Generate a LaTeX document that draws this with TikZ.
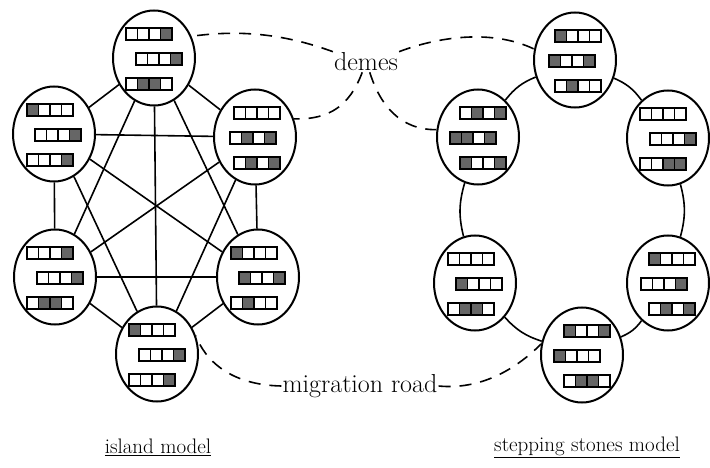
\documentclass[tikz,border=0pt]{standalone}
\usetikzlibrary{shapes.geometric,calc}
\tikzset{
  deme/.style={draw, ellipse, line width=2pt, minimum width=82pt, minimum height=95pt, inner sep=0pt},
  road/.style={line width=1.6pt},
  mig/.style={line width=1.6pt, dash pattern=on 12pt off 9pt},
  cell/.style={draw, line width=1.5pt},
  g0/.style={fill=white},
  g1/.style={fill=black!60},
  lbl/.style={font=\fontsize{26}{30}\selectfont, inner sep=1pt},
  modeltitle/.style={font=\fontsize{21}{25}\selectfont},
}
% one chromosome: four cells, left edge at (#2,#3) from the deme centre
\newcommand\chromo[4]{%
  \foreach \b [count=\i from 0] in {#4}
    \draw[cell,g\b] ($(#1)+(#2+11.5*\i,#3)$) rectangle +(11.5,12);}
% a deme with three chromosomes, #3 shifts the rows sideways
\newcommand\deme[6]{%
  \node[deme] (#1) at (#2) {};
  \pgfmathsetmacro\dl{-23-#3}\pgfmathsetmacro\dr{-23+#3}
  \chromo{#1}{\dl}{-30}{#4}
  \chromo{#1}{\dr}{-5}{#5}
  \chromo{#1}{\dl}{20}{#6}}
\begin{document}
\begin{tikzpicture}[x=1pt,y=-1pt]
  \useasboundingbox (0,0) rectangle (710,468);
  % island model
  \deme{iT}{154,58}{5}{0,0,0,1}{0,0,0,1}{0,1,1,0}
  \deme{iUL}{54,134}{4}{1,0,0,0}{0,0,0,1}{0,0,0,1}
  \deme{iUR}{255,137}{-2}{0,0,0,0}{0,1,0,1}{0,1,0,1}
  \deme{iLL}{55,277}{5}{0,0,0,1}{0,0,0,1}{0,1,1,0}
  \deme{iLR}{258,277}{4}{1,0,0,0}{1,0,0,1}{0,1,0,0}
  \deme{iB}{157,354}{5}{1,0,0,0}{0,0,0,1}{0,0,0,1}
  \foreach \a/\b in {iT/iUL,iT/iUR,iT/iLL,iT/iLR,iT/iB,iUL/iUR,iUL/iLL,iUL/iLR,iUL/iB,
      iUR/iLL,iUR/iLR,iUR/iB,iLL/iLR,iLL/iB,iLR/iB}
    \draw[road] (\a) -- (\b);
  % stepping stones model
  \deme{sT}{575,60}{-3}{1,0,0,0}{1,0,0,1}{0,1,0,0}
  \deme{sUL}{478,137}{-5}{0,1,0,1}{1,1,0,1}{1,0,0,1}
  \deme{sUR}{668,138}{5}{0,0,0,0}{0,0,0,1}{0,0,1,1}
  \deme{sLL}{475,283}{4}{0,0,0,0}{1,0,0,0}{0,1,1,0}
  \deme{sLR}{668,283}{-4}{1,0,0,0}{0,0,0,1}{0,1,0,1}
  \deme{sB}{582,355}{-5}{1,0,0,1}{1,0,0,0}{0,1,1,0}
  \foreach \a/\b in {sT/sUL,sUL/sLL,sLL/sB,sB/sLR,sLR/sUR,sUR/sT}
    \draw[road] (\a) to[bend right=15] (\b);
  % labels
  \node[lbl] (dm) at (366,62) {demes};
  \node[lbl] (mr) at (360,386) {migration road};
  \node[modeltitle] (ci) at (158,447) {\underline{island model}};
  \node[modeltitle] (cs) at (587,447) {\underline{stepping stones model}};
  \draw[mig] (dm.north west) .. controls (295,38) and (250,28) .. (iT.30);
  \draw[mig] (dm.north east) .. controls (435,38) and (490,28) .. (sT.165);
  \draw[mig] (dm.250) .. controls (350,105) and (330,120) .. (iUR.25);
  \draw[mig] (dm.290) .. controls (380,105) and (400,130) .. (sUL.170);
  \draw[mig] (mr.west) .. controls (230,385) and (205,360) .. (iB.25);
  \draw[mig] (mr.east) .. controls (480,390) and (515,370) .. (sB.165);
\end{tikzpicture}
\end{document}
